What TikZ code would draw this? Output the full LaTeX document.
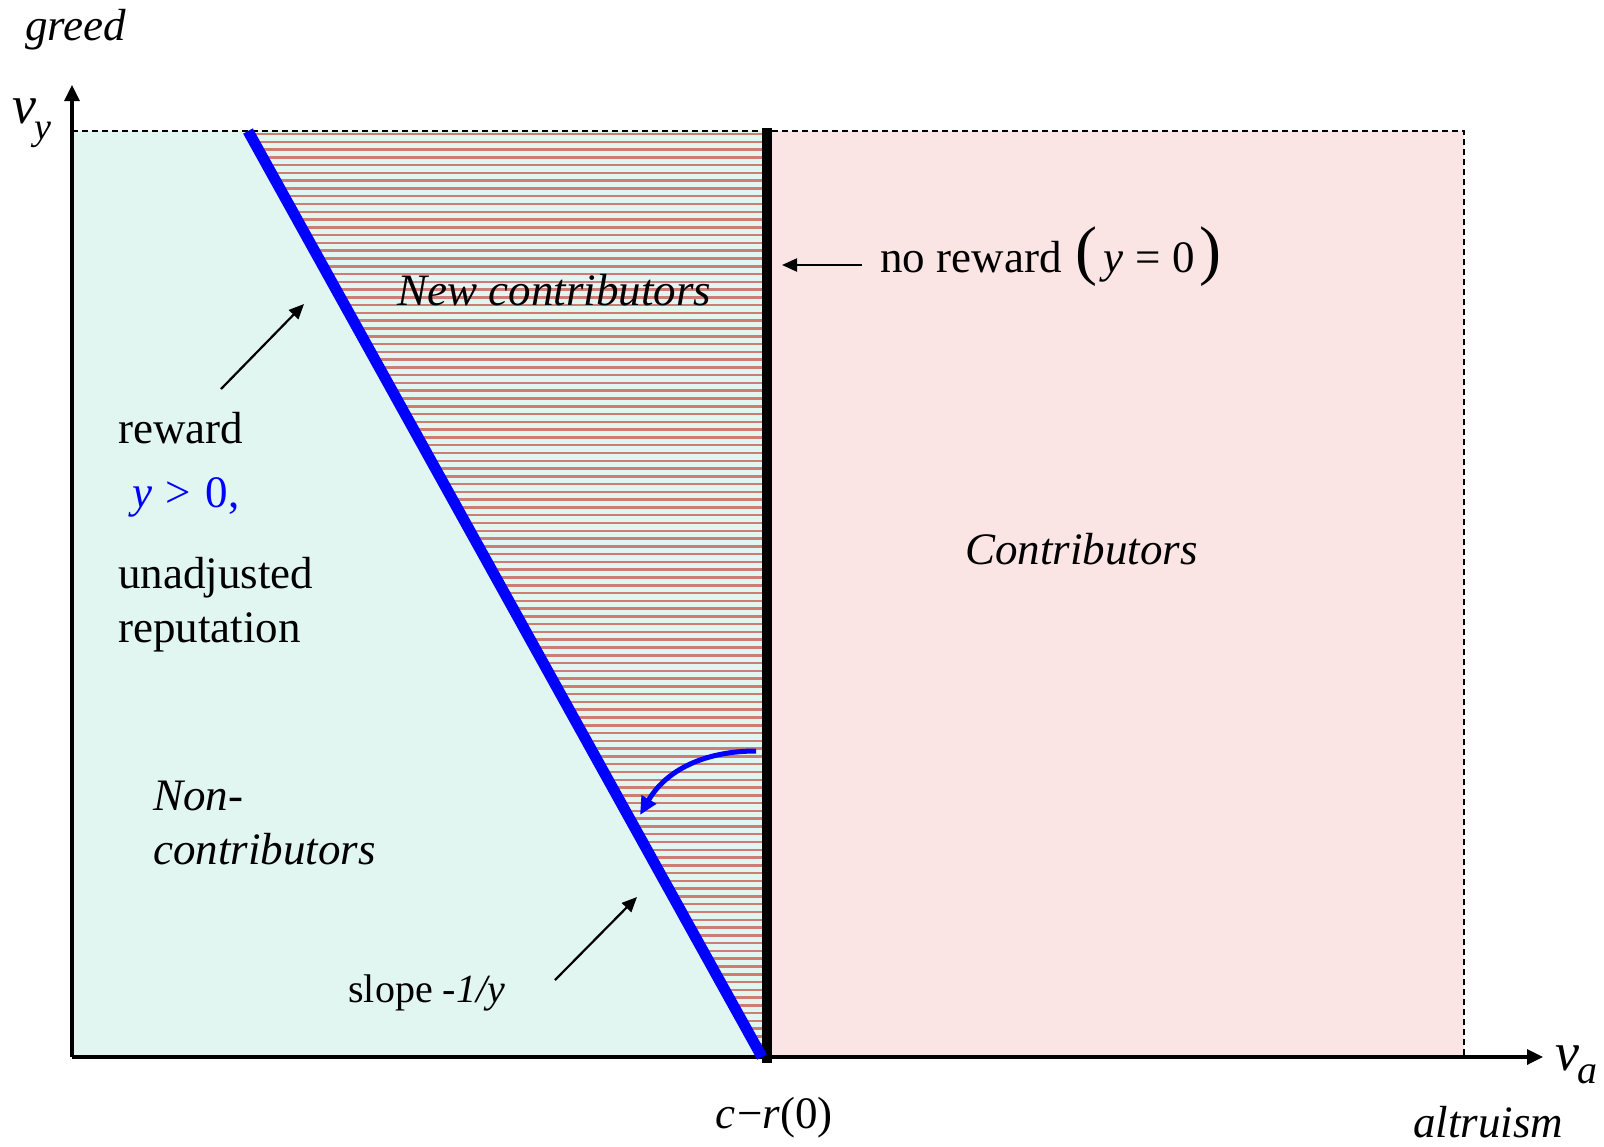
\documentclass[tikz,border=0pt]{standalone}
\usepackage{fontspec}
\setmainfont{Liberation Serif}
\usepackage{xcolor}
\definecolor{nonctb}{RGB}{226,246,241}
\definecolor{ctbrose}{RGB}{250,228,228}
\definecolor{rayurecol}{RGB}{205,125,115}
\usetikzlibrary{arrows.meta}
\newcommand{\grandpar}{\fontsize{33}{33}\selectfont}

\begin{document}
\begin{tikzpicture}[x=0.5pt, y=-0.5pt,
    texte/.style={inner sep=0pt, anchor=base west, font=\fontsize{22.5}{27}\selectfont},
    textei/.style={texte, font=\fontsize{22.5}{27}\selectfont\itshape},
    fleche/.style={-{Triangle[length=7.5pt,width=6.5pt]}, line width=1.1pt},
    axe/.style={-{Triangle[length=8pt,width=7.5pt]}, line width=1.6pt},
    bord/.style={dash pattern=on 3pt off 2pt, line width=1pt},
    rayure/.style={rayurecol, line width=1.25pt}]
  \useasboundingbox (0,0) rectangle (1604,1146);
  % domaine
  \coordinate (O)        at (72,1057);
  \coordinate (ytip)     at (72,85);
  \coordinate (xtip)     at (1543,1057);
  \coordinate (hg)       at (72,131);
  \coordinate (hd)       at (1464,131);
  \coordinate (bd)       at (1464,1057);
  \coordinate (seuilh)   at (767,128);
  \coordinate (seuilb)   at (767,1063);
  \coordinate (bleuh)    at (248,131);
  \coordinate (bleub)    at (762,1057);
  \fill[nonctb] (hg) rectangle (767,1057);
  \fill[ctbrose] (767,131) rectangle (bd);
  % zone hachuree
  \begin{scope}
    \clip (bleuh) -- (bleub) -- (767,1057) -- (767,131) -- cycle;
    \foreach \k in {0,...,119}
      \draw[rayure] (72,{134+7.78*\k}) -- (767,{134+7.78*\k});
  \end{scope}
  \draw[bord] (hg) -- (hd) -- (bd);
  \draw[axe] (O) -- (ytip);
  \draw[axe] (O) -- (xtip);
  \draw[line width=5pt] (seuilh) -- (seuilb);
  \draw[blue, line width=5.5pt] (bleuh) -- (bleub);
  % textes
  \node[textei] (greed) at (25,40) {greed};
  \node[texte, font=\fontsize{27}{27}\selectfont] (vy) at (12,123)
       {\textit{v}\kern-1pt\raisebox{-8pt}{\fontsize{19}{19}\selectfont\textit{y}}};
  \node[texte, font=\fontsize{27}{27}\selectfont] (va) at (1555,1070)
       {\textit{v}\kern-1pt\raisebox{-6.5pt}{\fontsize{20}{20}\selectfont\textit{a}}};
  \node[textei] (altru) at (1413,1137) {altruism};
  \node[texte] (cr0) at (715,1128) {\textit{c}\kern1pt−\textit{r}(0)};
  \node[textei] (nouv) at (397,305) {New contributors};
  \node[textei] (contrib) at (965,564) {Contributors};
  \node[texte] (sansrec) at (880,272)
       {no reward\hspace{7pt}{\grandpar(}\hspace{3pt}\textit{y}\hspace{6pt}=\hspace{6pt}0\hspace{2pt}{\grandpar)}};
  \node[texte] (rec) at (118,443) {reward};
  \node[texte, text=blue] (ypos) at (132,507) {\textit{y}\hspace{6.5pt}>\hspace{7.5pt}0,};
  \node[texte] (unadj) at (118,588) {unadjusted};
  \node[texte] (repu) at (118,642) {reputation};
  \node[textei] (nonc1) at (153,810) {Non-};
  \node[textei] (nonc2) at (153,864) {contributors};
  \node[texte, font=\fontsize{20}{24}\selectfont] (pente) at (348,1002) {slope -\textit{1/y}};
  % fleches
  \coordinate (nrdep)  at (862,265);
  \coordinate (nrfin)  at (782,265);
  \coordinate (recdep) at (221,389);
  \coordinate (recfin) at (304,304);
  \coordinate (pdep)   at (555,980);
  \coordinate (pfin)   at (637,897);
  \coordinate (cdep)   at (756,751);
  \coordinate (cfin)   at (640,815);
  \draw[fleche] (nrdep) -- (nrfin);
  \draw[fleche] (recdep) -- (recfin);
  \draw[fleche] (pdep) -- (pfin);
  \draw[blue, line width=2.5pt, -{Triangle[length=9pt,width=8pt]}]
       (cdep) to[out=180, in=60] (cfin);
\end{tikzpicture}
\end{document}
